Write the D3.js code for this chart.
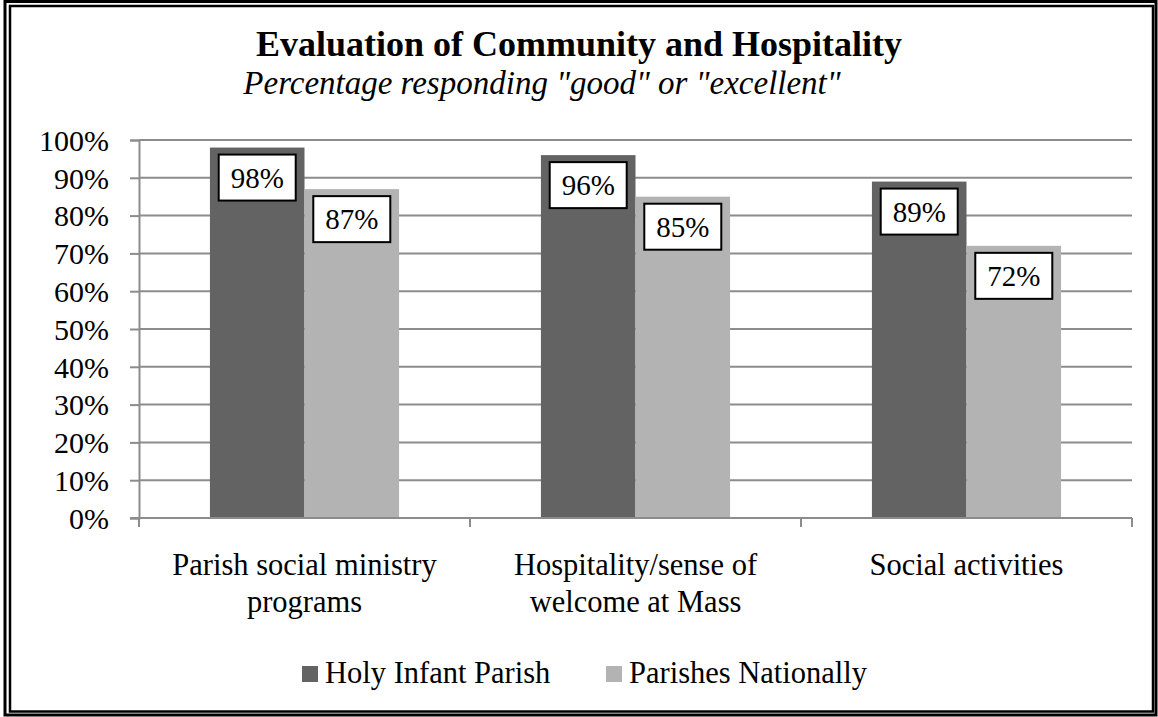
<!DOCTYPE html>
<html><head><meta charset="utf-8">
<script src="https://cdn.jsdelivr.net/npm/d3@7"></script>
<style>html,body{margin:0;padding:0;background:#fff}svg{display:block}svg text{font-family:"Times New Roman",Times,"Liberation Serif",Tinos,"Nimbus Roman","DejaVu Serif","Noto Serif",FreeSerif,serif}</style>
</head><body>
<svg id="c" width="1158" height="717"></svg>
<script>
const categories = [["Parish social ministry","programs"],["Hospitality/sense of","welcome at Mass"],["Social activities"]];
const seriesNames = ["Holy Infant Parish","Parishes Nationally"];
const holyInfant = [0.98,0.96,0.89];
const national = [0.87,0.85,0.72];
const yTicks = [0,0.1,0.2,0.3,0.4,0.5,0.6,0.7,0.8,0.9,1.0];
const colors = ["#636363","#b3b3b3"];

(function(){
const svg = d3.select("#c");
svg.append("rect").attr("x",5).attr("y",1.5).attr("width",1151).attr("height",713.5).attr("fill","none").attr("stroke","#000").attr("stroke-width",3);
svg.append("rect").attr("x",10).attr("y",6).attr("width",1143).attr("height",705.5).attr("fill","none").attr("stroke","#000").attr("stroke-width",2.5);

svg.append("text").attr("x",579).attr("y",56).attr("text-anchor","middle").attr("font-weight","bold").attr("font-size",36).text("Evaluation of Community and Hospitality");
svg.append("text").attr("x",542).attr("y",94).attr("text-anchor","middle").attr("font-style","italic").attr("font-size",33).text('Percentage responding "good" or "excellent"');

const pLeft=139,pRight=1132,pTop=140,pBottom=518;
const y = d3.scaleLinear().domain([0,1]).range([pBottom,pTop]);
const x0 = d3.scaleBand().domain(d3.range(categories.length)).range([pLeft,pRight]).padding(0);
const step = x0.bandwidth();
const bw = step/3.5;
const x1 = d3.scaleBand().domain([0,1]).range([0.75*bw, 2.75*bw]).padding(0);

svg.append("g").selectAll("line").data(yTicks.filter(d=>d>0)).join("line")
  .attr("x1",pLeft).attr("x2",pRight).attr("y1",d=>y(d)).attr("y2",d=>y(d))
  .attr("stroke","#8c8c8c").attr("stroke-width",2);

const yAxis = d3.axisLeft(y).tickValues(yTicks).tickFormat(d3.format(".0%")).tickSize(9).tickPadding(21);
const gy = svg.append("g").attr("transform",`translate(${pLeft},0)`).call(yAxis);
gy.attr("font-family",null);
gy.select(".domain").attr("stroke","#8c8c8c").attr("stroke-width",2);
gy.selectAll(".tick line").attr("stroke","#8c8c8c").attr("stroke-width",2);
gy.selectAll(".tick text").attr("font-size",30).attr("fill","#000").attr("dy","0.34em");

const series = [holyInfant, national];
const data = [];
categories.forEach((c,i)=>series.forEach((s,j)=>data.push({i,j,v:s[i]})));

svg.append("g").selectAll("rect").data(data).join("rect")
  .attr("x",d=>x0(d.i)+x1(d.j)).attr("width",x1.bandwidth())
  .attr("y",d=>y(d.v)).attr("height",d=>y(0)-y(d.v)).attr("fill",d=>colors[d.j]);

svg.append("line").attr("x1",pLeft-9).attr("x2",pRight).attr("y1",pBottom).attr("y2",pBottom).attr("stroke","#8c8c8c").attr("stroke-width",2);
const bounds = d3.range(categories.length+1).map(k=>pLeft+k*step);
svg.append("g").selectAll("line").data(bounds).join("line")
  .attr("x1",d=>d).attr("x2",d=>d).attr("y1",pBottom).attr("y2",pBottom+9).attr("stroke","#8c8c8c").attr("stroke-width",2);

const cl = svg.append("g").selectAll("text").data(categories).join("text")
  .attr("x",(d,i)=>x0(i)+step/2).attr("y",575).attr("text-anchor","middle")
  .attr("font-size",30.5);
cl.selectAll("tspan").data(d=>d).join("tspan").attr("x",function(){return this.parentNode.getAttribute("x");})
  .attr("dy",(d,k)=>k?37:0).text(d=>d);

const bw2 = 77, bh = 46;
const lab = svg.append("g").selectAll("g").data(data).join("g")
  .attr("transform",d=>`translate(${x0(d.i)+x1(d.j)+x1.bandwidth()/2},${y(d.v)+7})`);
lab.append("rect").attr("x",-bw2/2).attr("y",0).attr("width",bw2).attr("height",bh).attr("fill","#fff").attr("stroke","#000").attr("stroke-width",2);
lab.append("text").attr("text-anchor","middle").attr("y",bh/2).attr("dy","0.35em").attr("font-size",29).text(d=>d3.format(".0%")(d.v));

const legX = [302,606];
const lg = svg.append("g").selectAll("g").data(seriesNames).join("g").attr("transform",(d,i)=>`translate(${legX[i]},0)`);
lg.append("rect").attr("x",0).attr("y",666).attr("width",16).attr("height",16).attr("fill",(d,i)=>colors[i]);
lg.append("text").attr("x",23).attr("y",683).attr("font-size",30.5).text(d=>d);
})();
</script>
</body></html>
